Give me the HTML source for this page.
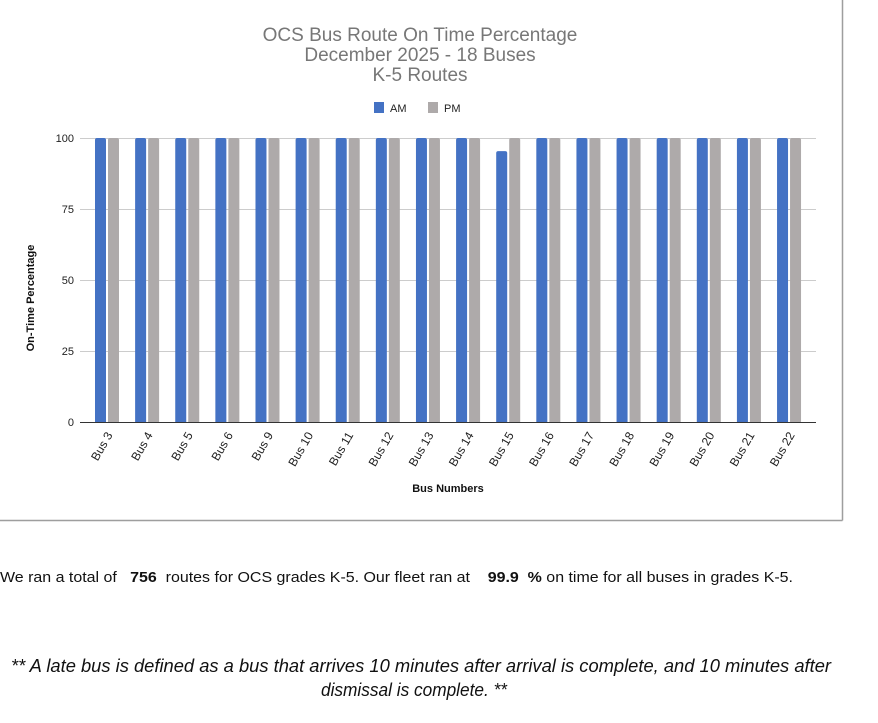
<!DOCTYPE html>
<html><head><meta charset="utf-8"><style>
body{margin:0;background:#fff;width:878px;height:718px;overflow:hidden}
.pre{white-space:pre}
</style></head><body>
<svg width="878" height="718" xmlns="http://www.w3.org/2000/svg" font-family="Liberation Sans, Arial, sans-serif">
<line x1="842.5" y1="0" x2="842.5" y2="520.5" stroke="#9e9e9e" stroke-width="1.5"/>
<line x1="0" y1="520.5" x2="842.5" y2="520.5" stroke="#9e9e9e" stroke-width="1.5"/>
<g fill="#777" font-size="19" text-anchor="middle">
<text x="420" y="41">OCS Bus Route On Time Percentage</text>
<text x="420" y="61">December 2025 - 18 Buses</text>
<text x="420" y="81">K-5 Routes</text>
</g>
<rect x="374" y="102" width="10" height="11" fill="#4472c4"/>
<text x="390" y="112" font-size="11" fill="#222">AM</text>
<rect x="428" y="102" width="10" height="11" fill="#aeaaaa"/>
<text x="444" y="112" font-size="11" fill="#222">PM</text>
<g stroke="#cccccc" stroke-width="1">
<line x1="80" y1="138.5" x2="816" y2="138.5"/>
<line x1="80" y1="209.5" x2="816" y2="209.5"/>
<line x1="80" y1="280.5" x2="816" y2="280.5"/>
<line x1="80" y1="351.5" x2="816" y2="351.5"/>
</g>
<g font-size="11" fill="#222" text-anchor="end">
<text x="74" y="142">100</text><text x="74" y="213">75</text><text x="74" y="284">50</text><text x="74" y="355">25</text><text x="74" y="426">0</text>
</g>
<text transform="translate(34,298) rotate(-90)" font-size="11" font-weight="bold" text-anchor="middle" fill="#111">On-Time Percentage</text>
<g id="bars"></g>
<line x1="80" y1="422.5" x2="816" y2="422.5" stroke="#333" stroke-width="1"/>
<g id="labels" font-size="12" fill="#222" text-anchor="end"></g>
<text x="448" y="492" font-size="11" font-weight="bold" text-anchor="middle" fill="#111">Bus Numbers</text>
<text class="pre" x="0" y="582" font-size="15" fill="#111" textLength="793" lengthAdjust="spacingAndGlyphs">We ran a total of   <tspan font-weight="bold">756</tspan>  routes for OCS grades K-5. Our fleet ran at    <tspan font-weight="bold">99.9  %</tspan> on time for all buses in grades K-5.</text>
<g font-size="18" font-style="italic" fill="#111" text-anchor="middle">
<text x="421" y="672" textLength="820" lengthAdjust="spacingAndGlyphs">** A late bus is defined as a bus that arrives 10 minutes after arrival is complete, and 10 minutes after</text>
<text x="414" y="696" textLength="186" lengthAdjust="spacingAndGlyphs">dismissal is complete. **</text>
</g>
</svg>
<script>
var names=[3,4,5,6,9,10,11,12,13,14,15,16,17,18,19,20,21,22];
var b=document.getElementById('bars'),l=document.getElementById('labels'),ns='http://www.w3.org/2000/svg';
names.forEach(function(n,i){
 var c=107+i*40.12;
 var am=(n==15)?95.4:100;
 [[c-12,am,'#4472c4'],[c+1,100,'#aeaaaa']].forEach(function(d){
  var y=422-d[1]*2.84;
  var p=document.createElementNS(ns,'path');
  var x=d[0],w=11,r=2;
  p.setAttribute('d','M'+x+',422 L'+x+','+(y+r)+' Q'+x+','+y+' '+(x+r)+','+y+' L'+(x+w-r)+','+y+' Q'+(x+w)+','+y+' '+(x+w)+','+(y+r)+' L'+(x+w)+',422 Z');
  p.setAttribute('fill',d[2]);b.appendChild(p);
 });
 var t=document.createElementNS(ns,'text');
 t.setAttribute('transform','translate('+(c+6)+',435) rotate(-60)');
 t.textContent='Bus '+n;l.appendChild(t);
});
</script>
</body></html>
